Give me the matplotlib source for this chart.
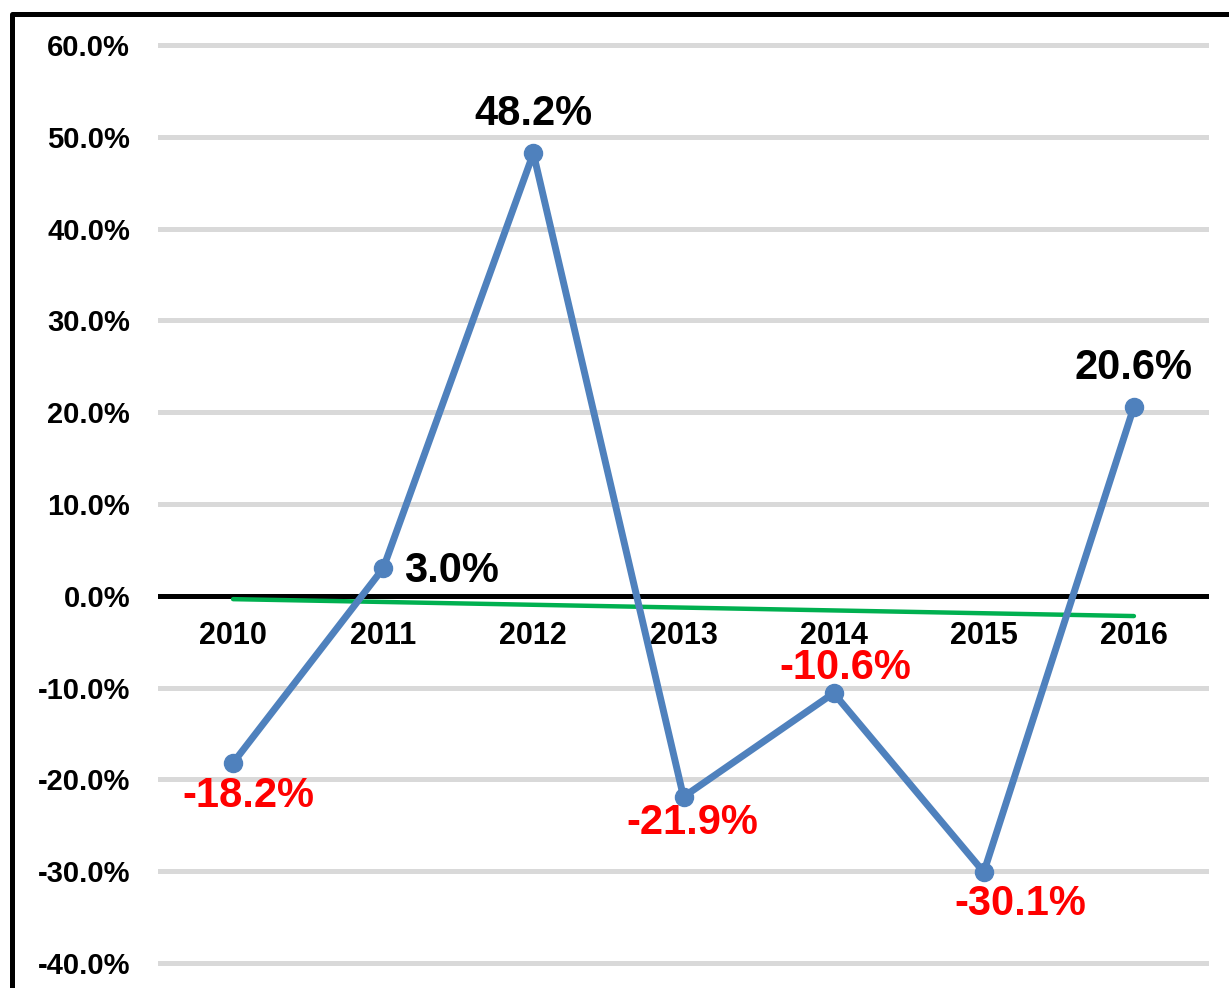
import numpy as np
import matplotlib
matplotlib.use("Agg")
import matplotlib.pyplot as plt
from matplotlib.patches import Rectangle

years = ["2010", "2011", "2012", "2013", "2014", "2015", "2016"]
returns = [-18.2, 3.0, 48.2, -21.9, -10.6, -30.1, 20.6]
y_ticks = [60, 50, 40, 30, 20, 10, 0, -10, -20, -30, -40]

# label offsets in pixels (dx, dy), alignment
label_pos = [(15, -33, "center"), (21, -3, "left"), (0, 39, "center"), (9, -26, "center"),
             (12, 25, "center"), (37, -32, "center"), (0, 39, "center")]

plt.rcParams["font.family"] = ["Liberation Sans", "DejaVu Sans"]
plt.rcParams["font.weight"] = "bold"

fig = plt.figure(figsize=(12.29, 9.88), dpi=100)
ax = fig.add_axes([158 / 1229, 1 - 972.2 / 988, 1051 / 1229, (972.2 - 35.8) / 988])

x = np.arange(len(years))
ax.set_xlim(-0.5, len(years) - 0.5)
ax.set_ylim(-41, 61)

for t in y_ticks:
    if t != 0:
        ax.axhline(t, color="#d9d9d9", lw=3.6, zorder=1)
ax.axhline(0, color="black", lw=3.6, zorder=2)

# linear trend line
k, b = np.polyfit(x, returns, 1)
ax.plot(x, k * x + b, color="#00b050", lw=3.2, solid_capstyle="round", zorder=3)

ax.plot(x, returns, color="#4f81bd", lw=5, marker="o", ms=13, zorder=4)

for i, v in enumerate(returns):
    dx, dy, ha = label_pos[i]
    ax.annotate(f"{v:.1f}%", (x[i], v), xytext=(dx, dy), textcoords="offset pixels",
                ha=ha, va="center", fontsize=30, fontweight="bold",
                color="red" if v < 0 else "black", zorder=5)

for i, yr in enumerate(years):
    ax.annotate(yr, (x[i], 0), xytext=(0, -40), textcoords="offset pixels",
                ha="center", va="center", fontsize=22, fontweight="bold")

ax.set_yticks(y_ticks)
ax.set_yticklabels([f"{t:.1f}%" for t in y_ticks], fontsize=21, fontweight="bold")
ax.tick_params(axis="y", length=0, pad=20)
ax.set_xticks([])
for s in ax.spines.values():
    s.set_visible(False)

fig.patches.append(Rectangle((11.5 / 1229, -0.1), 1.2, 1.1 - 14.5 / 988,
                             transform=fig.transFigure, fill=False, ec="black",
                             lw=3.6, joinstyle="round"))

fig.savefig("out.png", dpi=100)
